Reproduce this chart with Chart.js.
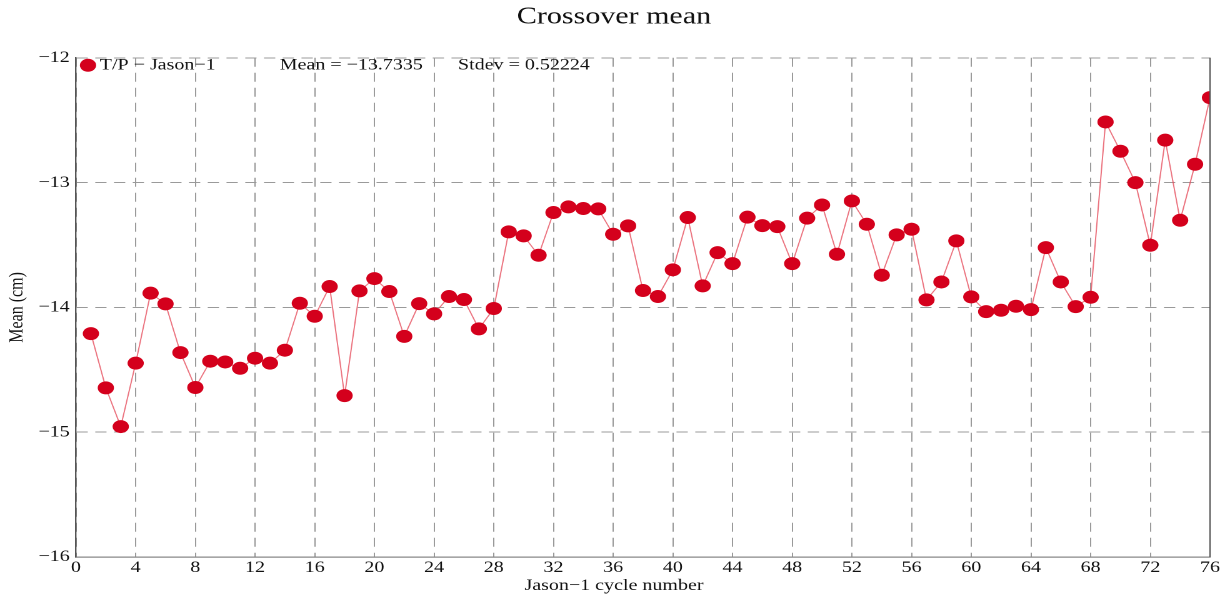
<!DOCTYPE html>
<html>
<head>
<meta charset="utf-8">
<title>Crossover mean</title>
<script src="https://cdn.jsdelivr.net/npm/chart.js@4.4.1/dist/chart.umd.min.js"></script>
<style>
  html, body { margin: 0; padding: 0; background: #fff; overflow: hidden; }
  /* the original picture is stretched sideways, so the chart is drawn narrow and widened */
  #wrap { width: 982.4px; height: 596px; transform: scaleX(1.25); transform-origin: 0 0; }
</style>
</head>
<body>
<div id="wrap"><canvas id="crossover"></canvas></div>
<script>
// Jason-1 cycle numbers and crossover mean (cm)
const cycles = [];
for (let i = 1; i <= 76; i++) cycles.push(i);

const meanCm = [
  -14.21, -14.645, -14.955, -14.447, -13.886, -13.972, -14.362, -14.642, -14.431, -14.437,
  -14.488, -14.407, -14.447, -14.343, -13.967, -14.071, -13.833, -14.707, -13.868, -13.769,
  -13.873, -14.232, -13.97, -14.052, -13.913, -13.937, -14.172, -14.009, -13.395, -13.427,
  -13.582, -13.24, -13.195, -13.208, -13.211, -13.414, -13.347, -13.865, -13.913, -13.699,
  -13.28, -13.828, -13.561, -13.649, -13.277, -13.345, -13.353, -13.649, -13.285, -13.179,
  -13.574, -13.147, -13.334, -13.742, -13.419, -13.374, -13.94, -13.796, -13.467, -13.916,
  -14.034, -14.023, -13.991, -14.018, -13.521, -13.796, -13.994, -13.919, -12.514, -12.749,
  -13.0, -13.502, -12.66, -13.302, -12.853, -12.319
];

const xTicks = [0, 76, 4];      // min, max, step
const yTicks = [-16, -12, 1];
const seriesName = 'T/P \u2212 Jason\u22121';
const statsText = ['Mean = \u221213.7335', 'Stdev = 0.52224'];

const serif = "'Liberation Serif', 'Times New Roman', serif";
const red = '#d4001c';

const points = cycles.map((c, i) => ({x: c, y: meanCm[i]}));

function minusSign(v){
    return String(v).replace('-', '\u2212');
}

// legend + stats line inside the top of the plot, plus the solid right frame
const frameAndKey = {
    id: 'frameAndKey',
    afterDraw(chart){
        const ctx = chart.ctx;
        const a = chart.chartArea;
        ctx.save();
        ctx.strokeStyle = '#555';
        ctx.lineWidth = 1;
        ctx.beginPath();
        ctx.moveTo(a.right, a.top);
        ctx.lineTo(a.right, a.bottom);
        ctx.stroke();

        const y = a.top + 7.5;
        ctx.fillStyle = red;
        ctx.beginPath();
        ctx.arc(a.left + 9.6, y, 6.5, 0, Math.PI * 2);
        ctx.fill();

        ctx.fillStyle = '#111';
        ctx.font = '16px ' + serif;
        ctx.textBaseline = 'middle';
        ctx.textAlign = 'left';
        ctx.fillText(seriesName, a.left + 19, y);
        ctx.fillText(statsText[0], a.left + 163, y);
        ctx.fillText(statsText[1], a.left + 305.6, y);
        ctx.restore();
    }
};

const ctx = document.getElementById('crossover').getContext('2d');
const chart = new Chart(ctx, {
    type: 'line',
    data: {
        datasets: [{
            label: seriesName,
            data: points,
            borderColor: 'rgba(230, 80, 95, 0.8)',
            borderWidth: 1,
            pointRadius: 6.5,
            pointHoverRadius: 6.5,
            pointBackgroundColor: red,
            pointBorderColor: red,
            pointBorderWidth: 0,
            tension: 0,
            clip: 0
        }]
    },
    options: {
        responsive: true,
        maintainAspectRatio: false,
        animation: false,
        devicePixelRatio: 2,
        layout: { padding: 0 },
        plugins: {
            legend: { display: false },
            tooltip: { enabled: false },
            title: {
                display: true,
                text: 'Crossover mean',
                color: '#111',
                font: { family: serif, size: 24, weight: 'normal' },
                padding: { top: 3, bottom: 26 }
            },
            // x axis caption, centred on the whole figure like the original
            subtitle: {
                display: true,
                position: 'bottom',
                text: 'Jason\u22121 cycle number',
                color: '#111',
                font: { family: serif, size: 16, weight: 'normal' },
                padding: { top: 0, bottom: 0.4 }
            }
        },
        scales: {
            x: {
                type: 'linear',
                min: xTicks[0],
                max: xTicks[1],
                afterFit(scale){ scale.height = 19.4; },
                ticks: {
                    stepSize: xTicks[2],
                    autoSkip: false,
                    maxRotation: 0,
                    padding: 1,
                    color: '#111',
                    font: { family: serif, size: 16 }
                },
                grid: { color: '#9a9a9a', lineWidth: 1, drawTicks: false },
                border: { color: '#888', width: 1.2, dash: [9, 6] }
            },
            y: {
                min: yTicks[0],
                max: yTicks[1],
                afterFit(scale){ scale.width = 60.8; },
                ticks: {
                    stepSize: yTicks[2],
                    padding: 5,
                    color: '#111',
                    font: { family: serif, size: 16 },
                    callback: (v) => minusSign(v)
                },
                grid: { color: '#9a9a9a', lineWidth: 1, drawTicks: false },
                border: { color: '#555', width: 1.2, dash: [9, 6] },
                title: {
                    display: true,
                    text: 'Mean (cm)',
                    color: '#111',
                    font: { family: serif, size: 16 },
                    padding: { top: 4, bottom: 0 }
                }
            },
            // empty strip on the right, keeps the titles centred on the figure
            gap: {
                type: 'linear',
                position: 'right',
                display: true,
                afterFit(scale){ scale.width = 14.4; },
                ticks: { display: false },
                grid: { display: false },
                border: { display: false }
            }
        }
    },
    plugins: [frameAndKey]
});
</script>
</body>
</html>
